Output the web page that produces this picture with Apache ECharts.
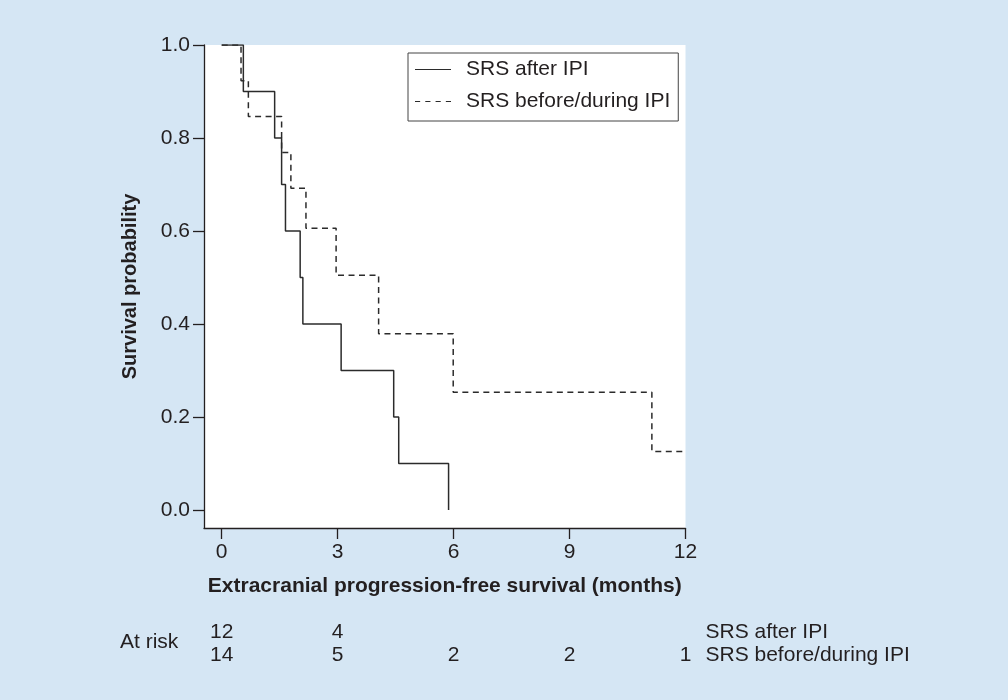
<!DOCTYPE html>
<html>
<head>
<meta charset="utf-8">
<script src="https://cdn.jsdelivr.net/npm/echarts@6/dist/echarts.min.js"></script>
<style>
  html, body { margin: 0; padding: 0; background: #d5e6f4; }
  #chart { width: 1008px; height: 700px; }
</style>
</head>
<body>
<div id="chart"></div>
<script>
// Kaplan-Meier steps
var afterTimes = [0, 0.56, 1.37, 1.55, 1.65, 2.03, 2.10, 3.09, 4.45, 4.58, 5.87];
var afterSurv  = [1, 0.9, 0.8, 0.7, 0.6, 0.5, 0.4, 0.3, 0.2, 0.1, 0];
var beforeTimes = [0, 0.50, 0.69, 1.55, 1.79, 2.18, 2.96, 4.06, 5.99, 11.13, 12];
var beforeSurv  = [1, 0.923, 0.846, 0.769, 0.692, 0.606, 0.505, 0.379, 0.253, 0.126, 0.126];

var seriesNames = ['SRS after IPI', 'SRS before/during IPI'];
var xTicks = [0, 3, 6, 9, 12];
var yTicks = [0, 0.2, 0.4, 0.6, 0.8, 1.0];

// numbers at risk at each x tick
var riskAfter  = [12, 4, null, null, null];
var riskBefore = [14, 5, 2, 2, 1];

var ink = '#231f20';
var curve = '#2b2b2b';
var font = 'Liberation Sans, Arial, sans-serif';
var fs = 21;

function pairs(xs, ys) {
    return xs.map(function (x, i) { return [x, ys[i]]; });
}

var riskData = [];
[riskAfter, riskBefore].forEach(function (row, r) {
    row.forEach(function (n, i) {
        if (n !== null) riskData.push([xTicks[i], seriesNames[r], n]);
    });
});

var chart = echarts.init(document.getElementById('chart'));

var option = {
    backgroundColor: '#d5e6f4',
    animation: false,
    textStyle: { fontFamily: font, color: ink },
    legend: {
        orient: 'vertical',
        left: 408,
        top: 53,
        padding: [6, 8, 9, 7],
        itemGap: 11,
        itemWidth: 36,
        itemHeight: 1.5,
        backgroundColor: '#fff',
        borderColor: '#444',
        borderWidth: 1,
        borderRadius: 0,
        data: [
            { name: seriesNames[0], icon: 'path://M0,0H36V1H0Z' },
            { name: seriesNames[1], icon: 'path://M0,0H5V1H0ZM10,0H15V1H10ZM20,0H25V1H20ZM30,0H35V1H30Z' }
        ],
        textStyle: { fontSize: fs, color: ink, fontFamily: font, padding: [0, 0, 0, 10] }
    },
    grid: [
        { left: 204, top: 45, width: 481.5, height: 483, show: true, backgroundColor: '#fff', borderWidth: 0 },
        { left: 204, top: 620.5, width: 481.5, height: 46 }
    ],
    xAxis: [
        {
            type: 'value',
            gridIndex: 0,
            min: -0.458,
            max: 12,
            name: 'Extracranial progression-free survival (months)',
            nameLocation: 'middle',
            nameGap: 48,
            nameTextStyle: { fontSize: fs, fontWeight: 'bold', color: ink, fontFamily: font },
            axisLine: { show: true, onZero: false, lineStyle: { color: ink, width: 1.3 } },
            axisTick: { show: true, length: 11, customValues: xTicks, lineStyle: { color: ink, width: 1.3 } },
            axisLabel: { customValues: xTicks, margin: 14, fontSize: fs, color: ink, fontFamily: font },
            splitLine: { show: false }
        },
        {
            type: 'value',
            gridIndex: 1,
            min: -0.458,
            max: 12,
            show: false
        }
    ],
    yAxis: [
        {
            type: 'value',
            gridIndex: 0,
            min: -0.0387,
            max: 1,
            name: 'Survival probability',
            nameLocation: 'middle',
            nameGap: 64,
            nameTextStyle: { fontSize: 20, fontWeight: 'bold', color: ink, fontFamily: font },
            axisLine: { show: true, onZero: false, lineStyle: { color: ink, width: 1.3 } },
            axisTick: { show: true, length: 11, customValues: yTicks, lineStyle: { color: ink, width: 1.3 } },
            axisLabel: {
                customValues: yTicks, margin: 14, fontSize: fs, color: ink, fontFamily: font,
                formatter: function (v) { return v.toFixed(1); }
            },
            splitLine: { show: false }
        },
        {
            type: 'category',
            gridIndex: 1,
            data: seriesNames,
            inverse: true,
            position: 'right',
            axisLine: { show: false },
            axisTick: { show: false },
            axisLabel: { interval: 0, hideOverlap: false, margin: 20, fontSize: fs, color: ink, fontFamily: font }
        }
    ],
    graphic: [
        {
            type: 'text',
            left: 120,
            top: 632,
            style: { text: 'At risk', font: fs + 'px ' + font, fill: ink }
        }
    ],
    series: [
        {
            name: seriesNames[0],
            type: 'line',
            step: 'end',
            symbol: 'none',
            xAxisIndex: 0,
            yAxisIndex: 0,
            data: pairs(afterTimes, afterSurv),
            lineStyle: { color: curve, width: 1.5, type: 'solid' },
            itemStyle: { color: curve }
        },
        {
            name: seriesNames[1],
            type: 'line',
            step: 'end',
            symbol: 'none',
            xAxisIndex: 0,
            yAxisIndex: 0,
            data: pairs(beforeTimes, beforeSurv),
            lineStyle: { color: curve, width: 1.5, type: [6, 4.5] },
            itemStyle: { color: curve }
        },
        {
            type: 'scatter',
            xAxisIndex: 1,
            yAxisIndex: 1,
            symbolSize: 0.1,
            itemStyle: { color: ink, opacity: 1 },
            data: riskData,
            label: {
                show: true,
                position: 'inside',
                fontSize: fs,
                color: ink,
                opacity: 1,
                fontFamily: font,
                formatter: function (p) { return p.value[2]; }
            }
        }
    ]
};

chart.setOption(option);
</script>
</body>
</html>
